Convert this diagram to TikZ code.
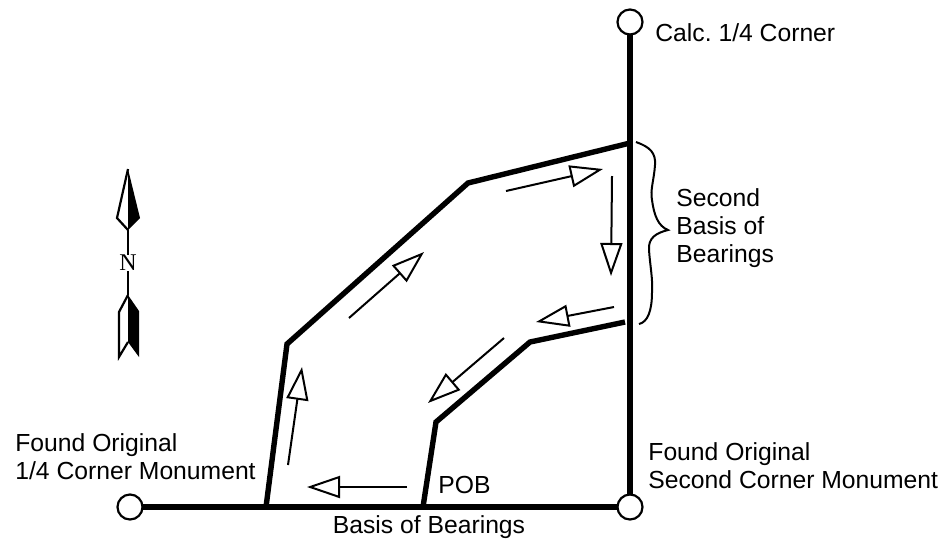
\documentclass[tikz,border=0pt]{standalone}
\usepackage{fontspec}
\setmainfont{Liberation Sans}
\newfontfamily\serifN{Liberation Serif}
\usetikzlibrary{arrows.meta}
\begin{document}
\frenchspacing
\begin{tikzpicture}[x=0.5pt,y=-0.5pt,
        corner/.style = {draw, circle, line width=1.1pt, minimum size=12.5pt, inner sep=0pt, outer sep=0pt},
        lot/.style = {line width=2.7pt, line join=miter},
        dir/.style = {line width=1pt, -{Triangle[open, length=16.5pt, width=11pt, line width=1pt]}},
        txt/.style = {font=\fontsize{12.35}{14}\selectfont, align=left, inner sep=0pt}]
        \useasboundingbox (0,0) rectangle (951,542);
        % monuments
        \node[corner] (1) at (630,22) {};
        \node[corner] (2) at (630,507) {};
        \node[corner] (3) at (130,507) {};
        \draw[lot] (1) -- (2);
        \draw[lot] (3) -- (2);
        % parcel lines
        \coordinate (a) at (266,507);
        \coordinate (b) at (287,344);
        \coordinate (c) at (468,183);
        \coordinate (d) at (630,143);
        \coordinate (e) at (423,507);
        \coordinate (f) at (436,422);
        \coordinate (g) at (530,342);
        \coordinate (h) at (625,322);
        \draw[lot] (a) -- (b) -- (c) -- (d);
        \draw[lot] (e) -- (f) -- (g) -- (h);
        % direction arrows
        \coordinate (s1) at (288,465); \coordinate (t1) at (302,367);
        \coordinate (s2) at (349,318); \coordinate (t2) at (424,252);
        \coordinate (s3) at (506,191); \coordinate (t3) at (603,169);
        \coordinate (s4) at (612,176); \coordinate (t4) at (611,276);
        \coordinate (s5) at (614,307); \coordinate (t5) at (536,322);
        \coordinate (s6) at (504,338); \coordinate (t6) at (428,403);
        \coordinate (s7) at (407,487); \coordinate (t7) at (307,487);
        \foreach \i in {1,...,7}
            \draw[dir] (s\i) -- (t\i);
        % brace
        \draw[line width=1pt] (636,142) .. controls (650,147) and (656,153) .. (655,165)
            .. controls (654,180) and (650,190) .. (652,200)
            .. controls (654,215) and (658,226) .. (668,230)
            .. controls (656,233) and (648,238) .. (649,250)
            .. controls (650,265) and (653,280) .. (652,292)
            .. controls (652,310) and (648,322) .. (639,324);
        % north arrow
        \node[font=\serifN\fontsize{12}{12}\selectfont, inner sep=0pt] (n) at (128,263) {N};
        \coordinate (n1) at (128,169);
        \coordinate (n2) at (117,218);
        \coordinate (n3) at (128,230);
        \coordinate (n4) at (140,218);
        \coordinate (n5) at (128,295);
        \coordinate (n6) at (119,312);
        \coordinate (n7) at (119,357);
        \coordinate (n8) at (128,342);
        \coordinate (n9) at (139,357);
        \coordinate (n10) at (139,311);
        \draw[line width=1.1pt, line join=miter] (n1) -- (n2) -- (n3);
        \fill (n1) -- (n4) -- (n3) -- cycle;
        \draw[line width=1pt] (n3) -- (n.north);
        \draw[line width=1pt] (n.south) -- (n5);
        \draw[line width=1.1pt, line join=miter] (n5) -- (n6) -- (n7) -- (n8);
        \fill (n5) -- (n10) -- (n9) -- (n8) -- cycle;
        % labels
        \node[txt, anchor=west] (calc) at (655,33) {Calc. 1/4 Corner};
        \node[txt, anchor=west] (second) at (676,228) {Second\\Basis of\\Bearings};
        \node[txt, anchor=west] (left) at (15,457) {Found Original\\1/4 Corner Monument};
        \node[txt, anchor=west] (right) at (648,466) {Found Original\\Second Corner Monument};
        \node[txt, anchor=west] (pob) at (438,485) {POB};
        \node[txt] (basis) at (429,527) {Basis of Bearings};
\end{tikzpicture}
\end{document}
